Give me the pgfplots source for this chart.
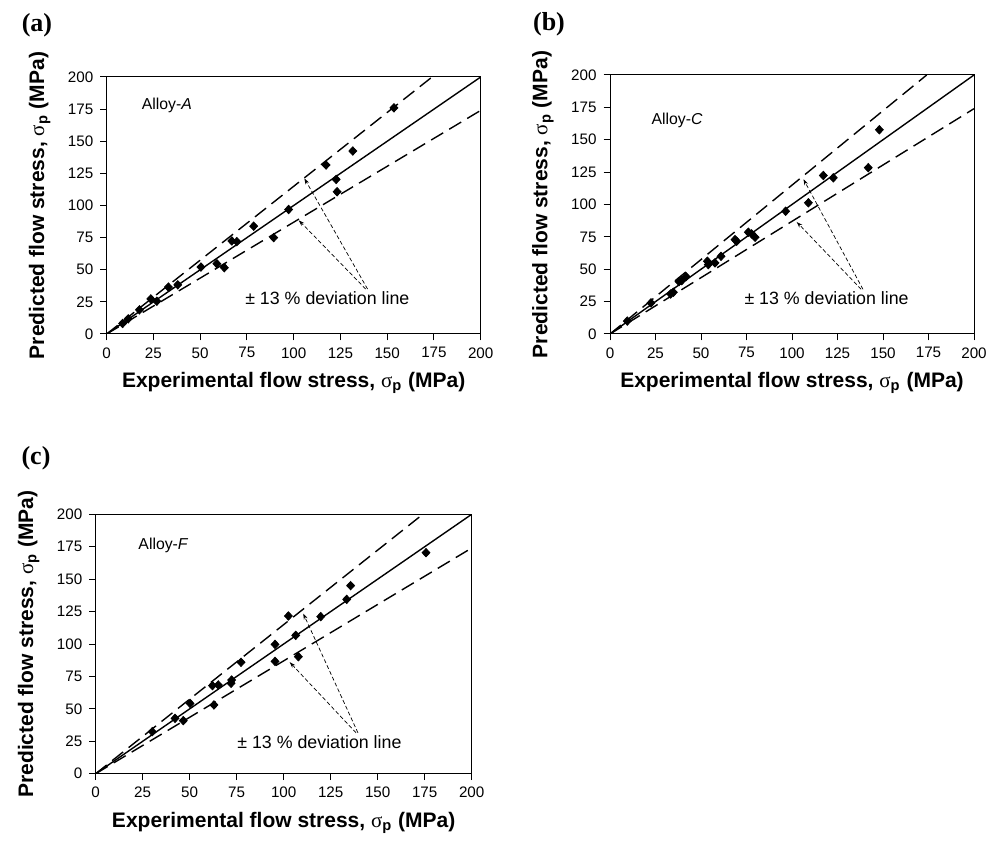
\documentclass[border=0pt]{standalone}
\usepackage{fontspec}
\setmainfont{Liberation Sans}
\newfontfamily\serif{Liberation Serif}
\usepackage{pgfplots}
\pgfplotsset{compat=1.18}
\usetikzlibrary{arrows.meta}

% common look of the three panels
\pgfplotsset{
  flowpanel/.style={
    scale only axis,
    xmin=0, xmax=200, ymin=0, ymax=200,
    xtick={0,25,...,200}, ytick={0,25,...,200},
    tick align=outside, tick pos=left,
    major tick length=3.2pt,
    axis line style={line width=0.5pt},
    every tick/.style={black, line width=0.5pt},
    /pgf/number format/assume math mode=true,
    ticklabel style={font=\fontsize{7.6}{9}\selectfont},
    xlabel={Experimental flow stress, {\serif\mdseries σ}\textsubscript{p} (MPa)},
    ylabel={Predicted flow stress, {\serif\mdseries σ}\textsubscript{p} (MPa)},
    label style={font=\fontsize{10.5}{12}\selectfont\bfseries},
    xlabel style={at={(axis description cs:0.5,0)}, anchor=center, yshift=-24.5pt},
    ylabel style={at={(axis description cs:0,0.5)}, anchor=center, yshift=33.5pt},
    clip=true,
  },
  eqline/.style={black, line width=0.7pt, no marks},
  devline/.style={black, line width=0.7pt, dash pattern=on 7pt off 3.5pt, no marks},
  pts/.style={only marks, mark=diamond*, mark size=2.1pt, mark options={black, xscale=1.25}},
}
\tikzset{
  note/.style={font=\fontsize{8.9}{10}\selectfont},
  alloy/.style={font=\fontsize{7.9}{10}\selectfont, anchor=west},
  panel/.style={font=\fontsize{13}{14}\selectfont\serif\bfseries},
  pointer/.style={black, line width=0.35pt, dash pattern=on 2pt off 1.2pt, -{Stealth[length=3pt,width=2pt]}},
}

\begin{document}
\begin{tikzpicture}
\path (0,0) rectangle (501.5pt,-420pt);

% ---------- (a) Alloy-A
\node[panel] at (18.5pt,-12.5pt) {(a)};
\begin{axis}[flowpanel, at={(53.35pt,-38.5pt)}, anchor=north west, width=187pt, height=128.5pt]
\addplot[eqline] coordinates {(0,0) (200,200)};
\addplot[devline] coordinates {(0,0) (174,200)};
\addplot[devline] coordinates {(0,0) (200,174)};
\addplot[pts] coordinates {
(153.6,176) (131.6,142.4) (117.3,131.5) (122.7,120.3) (123.2,110.7)
(97.3,96.9) (78.6,83.9) (89.3,75) (66.9,72.4) (69.6,71.9)
(58.9,54.7) (62.9,51.6) (50.4,52.1) (38,38.3) (33,36.5)
(26.8,25.5) (23.6,27.3) (17.5,18.8) (11.5,11.8) (8.5,8.2)
};
\node[alloy] at (axis cs:15,178) {Alloy-\textit{A}};
\node[note] at (axis cs:118,28) {± 13 \% deviation line};
\draw[pointer] (axis cs:139.5,35) -- (axis cs:105.7,121.1);
\draw[pointer] (axis cs:138.5,35) -- (axis cs:102.7,88.5);
\end{axis}

% ---------- (b) Alloy-C
\node[panel] at (274.5pt,-12pt) {(b)};
\begin{axis}[flowpanel, at={(305pt,-37.5pt)}, anchor=north west, width=182pt, height=129.5pt]
\addplot[eqline] coordinates {(0,0) (200,200)};
\addplot[devline] coordinates {(0,0) (174,200)};
\addplot[devline] coordinates {(0,0) (200,174)};
\addplot[pts] coordinates {
(148,157.7) (141.9,128.4) (117.2,122.4) (122.7,120.6) (109,101.3)
(96.5,94.8) (76,78.6) (77.8,77.3) (79.7,74.7) (68.7,72.9)
(69.6,71.6) (61,60) (57.7,54.9) (53.5,56.2) (54,53.6)
(41.8,44.3) (39.4,41.2) (37.9,40.5) (34.8,32.2) (33.3,30.9)
(22.5,24) (9.5,10)
};
\node[alloy] at (axis cs:19,165) {Alloy-\textit{C}};
\node[note] at (axis cs:119,28) {± 13 \% deviation line};
\draw[pointer] (axis cs:139,34.5) -- (axis cs:106.3,119.5);
\draw[pointer] (axis cs:138,34.5) -- (axis cs:102.6,86.5);
\end{axis}

% ---------- (c) Alloy-F
\node[panel] at (18pt,-229pt) {(c)};
\begin{axis}[flowpanel, at={(47.85pt,-257.15pt)}, anchor=north west, width=188pt, height=129.7pt]
\addplot[eqline] coordinates {(0,0) (200,200)};
\addplot[devline] coordinates {(0,0) (174,200)};
\addplot[devline] coordinates {(0,0) (200,174)};
\addplot[pts] coordinates {
(175.7,170.4) (135.6,145) (133.5,134.4) (119.7,121.1) (102.5,121.6)
(106.4,106.7) (95.4,99.7) (107.8,90.2) (95.4,86.6) (77.3,85.9)
(72.3,72.2) (72,69.7) (65.2,68.4) (62.1,67.9) (62.9,53)
(50.2,54.2) (42.2,42.7) (46.6,40.9) (30.1,32.4)
};
\node[alloy] at (axis cs:19,176) {Alloy-\textit{F}};
\node[note] at (axis cs:119,24.5) {± 13 \% deviation line};
\draw[pointer] (axis cs:139.5,31.5) -- (axis cs:110.4,123.5);
\draw[pointer] (axis cs:138.5,31.5) -- (axis cs:103.2,86);
\end{axis}
\end{tikzpicture}
\end{document}
